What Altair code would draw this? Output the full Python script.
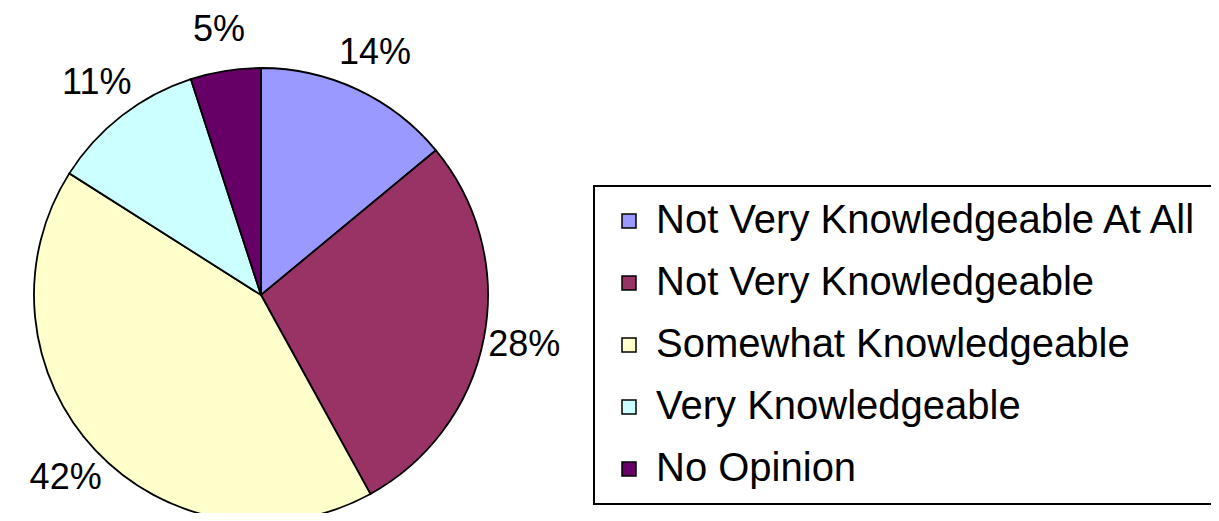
import altair as alt
import pandas as pd

categories = [
    "Not Very Knowledgeable At All",
    "Not Very Knowledgeable",
    "Somewhat Knowledgeable",
    "Very Knowledgeable",
    "No Opinion",
]
values = [14, 28, 42, 11, 5]
labels = ["14%", "28%", "42%", "11%", "5%"]
colors = ["#9999FF", "#993366", "#FFFFCC", "#CCFFFF", "#660066"]

df = pd.DataFrame({
    "category": categories,
    "value": values,
    "label": labels,
    "order": list(range(len(categories))),
})

FONT = "Liberation Sans"
cx, cy = 253, 287

base = alt.Chart(df).encode(
    theta=alt.Theta("value:Q", stack=True),
    order=alt.Order("order:Q"),
    x=alt.value(cx),
    y=alt.value(cy),
)

pie = base.mark_arc(outerRadius=227, stroke="black", strokeWidth=1.8).encode(
    color=alt.Color(
        "category:N",
        sort=categories,
        scale=alt.Scale(domain=categories, range=colors),
        legend=alt.Legend(
            title=None,
            orient="none",
            legendX=586,
            legendY=178,
            direction="vertical",
            symbolType="square",
            symbolSize=196,
            symbolStrokeColor="black",
            symbolStrokeWidth=1.5,
            symbolOpacity=1,
            labelFont=FONT,
            labelFontSize=40,
            labelColor="black",
            labelLimit=0,
            labelOffset=7,
            rowPadding=22,
            padding=15,
            strokeColor="black",
            fillColor="white",
        ),
    )
)

text = base.mark_text(radius=268, font=FONT, fontSize=36, color="black").encode(
    text="label:N"
)

chart = (
    alt.layer(pie, text)
    .properties(width=1203, height=505, autosize=alt.AutoSizeParams(type="none"), padding=0)
    .configure_view(stroke=None)
    .configure_legend(strokeWidth=2)
)

chart.save("out.html", embed_options={"renderer": "svg", "actions": False})
